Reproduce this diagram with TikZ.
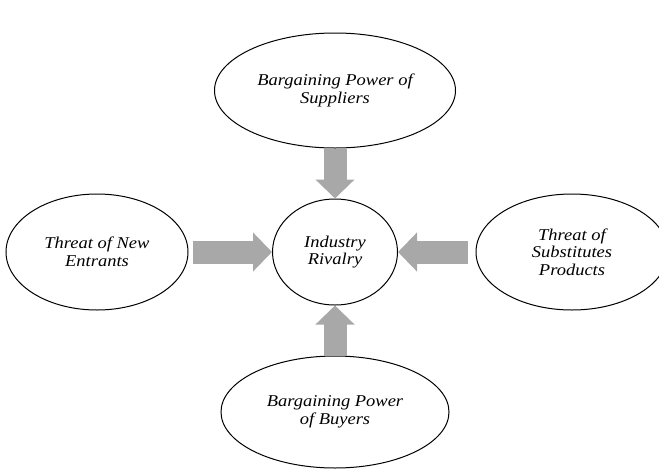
\documentclass[tikz,border=0pt]{standalone}
\usepackage{fontspec}
\setmainfont{Liberation Serif}[FakeStretch=1.12]
\usetikzlibrary{arrows.meta,shapes.geometric}

\definecolor{forcegray}{RGB}{168,168,168}

\begin{document}
\begin{tikzpicture}[x=1pt, y=-1pt,
    every node/.style={font=\fontsize{16.5}{17.5}\selectfont\itshape},
    force/.style={ellipse, draw, line width=1pt, inner sep=0pt, align=center},
    push/.style={draw=forcegray, line width=23pt, -{Triangle[width=38pt, length=19pt]}}]
  \clip (0,0) rectangle (659,472);

  \node[force, minimum width=125pt, minimum height=106pt] (riv) at (335,252) {Industry\\Rivalry};
  \node[force, minimum width=241pt, minimum height=115pt] (sup) at (335,90.5) {Bargaining Power of\\Suppliers};
  \node[force, minimum width=182pt, minimum height=116pt] (ent) at (97,252) {Threat of New\\Entrants};
  \node[force, minimum width=192pt, minimum height=116pt] (sub) at (572,252) {Threat of\\Substitutes\\Products};
  \node[force, minimum width=228pt, minimum height=112pt] (buy) at (335,412) {Bargaining Power\\of Buyers};

  % the four forces pushing on the rivalry
  \draw[push] (sup) -- (riv);
  \draw[push, shorten <=4pt] (ent) -- (riv);
  \draw[push, shorten <=8pt] (sub) -- (riv);
  \draw[push] (buy) -- (riv);
\end{tikzpicture}
\end{document}
